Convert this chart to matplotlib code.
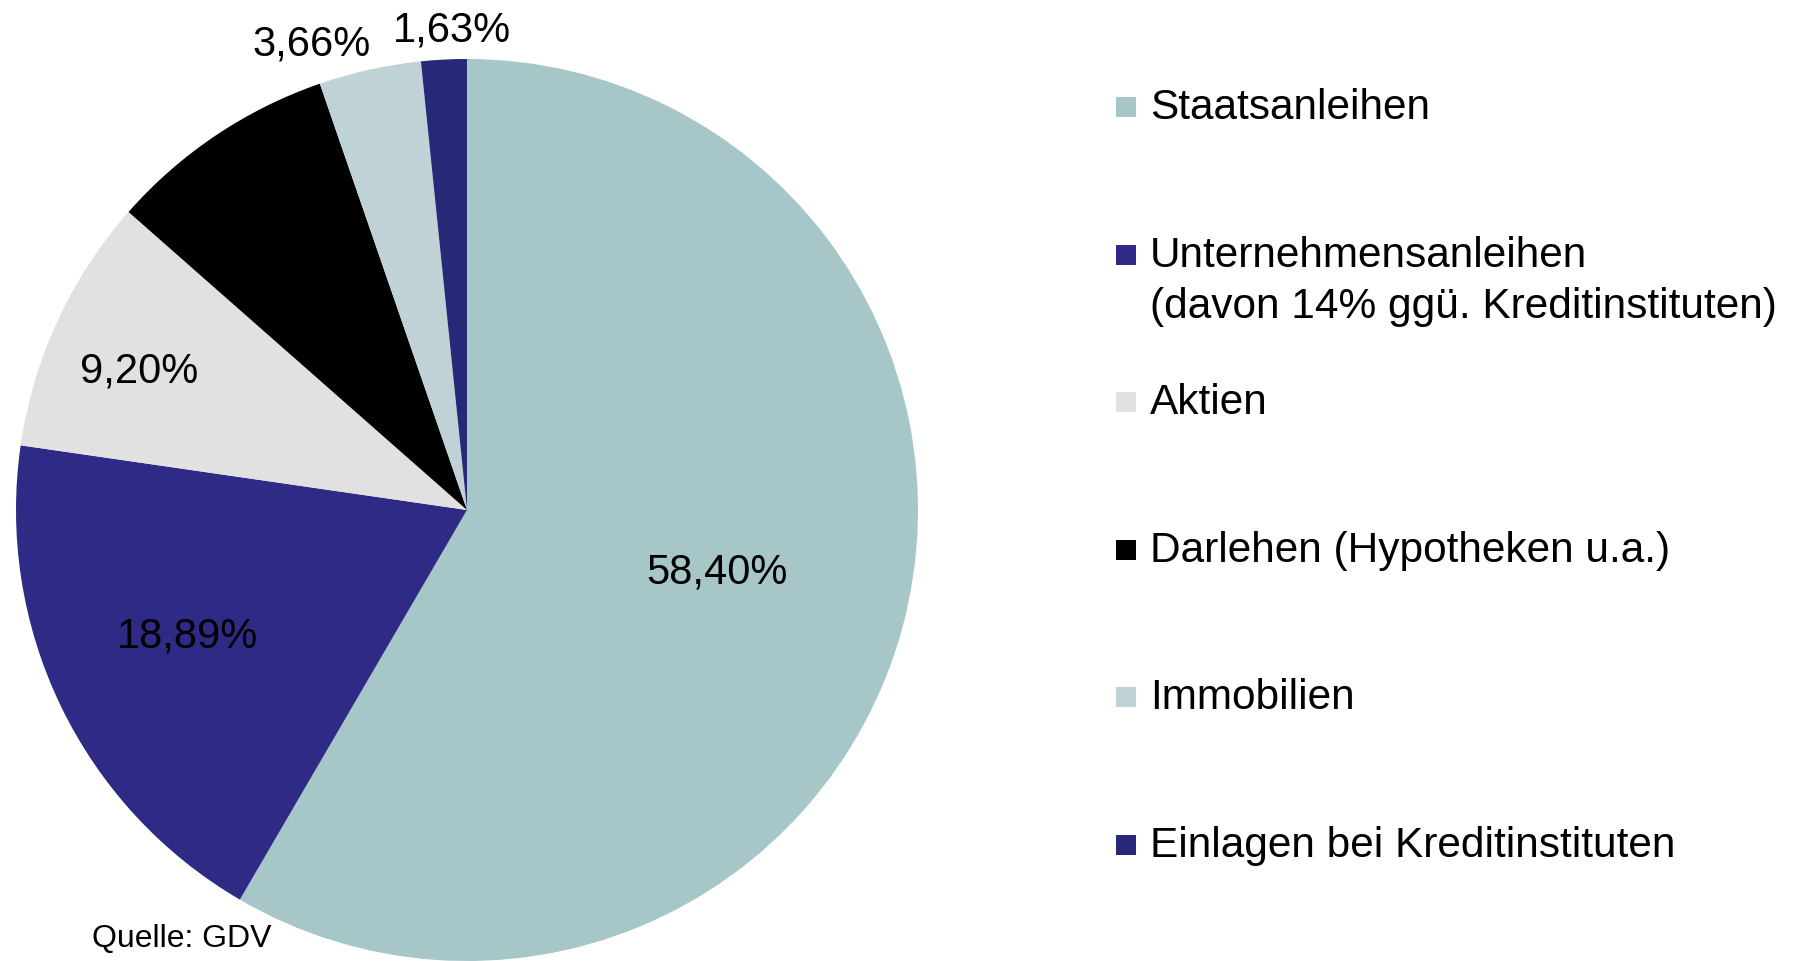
import numpy as np
import matplotlib.pyplot as plt
from matplotlib.patches import Rectangle

plt.rcParams['font.family'] = ['Liberation Sans', 'DejaVu Sans']

categories = ['Staatsanleihen',
              'Unternehmensanleihen\n(davon 14% ggü. Kreditinstituten)',
              'Aktien',
              'Darlehen (Hypotheken u.a.)',
              'Immobilien',
              'Einlagen bei Kreditinstituten']
shares = [58.40, 18.89, 9.20, 8.22, 3.66, 1.63]
colors = ['#A6C6C8', '#2E2A85', '#E1E1E1', '#000000', '#BFD3D6', '#282878']

# label placement: radius fraction and angle offset (deg) per slice
label_r = [0.57, 0.68, 0.79, 0.6, 1.09, 1.065]
label_dang = [1.2, -1.6, 1.7, 0.0, 6.0, -1.1]

W, H = 1800, 962
fig = plt.figure(figsize=(W / 100, H / 100), dpi=100)

cx, cy, R = 467, 511, 451
ax = fig.add_axes([(cx - R) / W, (H - cy - R) / H, 2 * R / W, 2 * R / H])
wedges, _ = ax.pie(shares, colors=colors, startangle=90, counterclock=False,
                   radius=1, wedgeprops=dict(linewidth=0))
ax.set_xlim(-1, 1)
ax.set_ylim(-1, 1)
ax.axis('off')

for w, v, r, da in zip(wedges, shares, label_r, label_dang):
    mid = np.deg2rad((w.theta1 + w.theta2) / 2 + da)
    txt = f'{v:.2f}%'.replace('.', ',')
    ax.text(r * np.cos(mid), r * np.sin(mid), txt, ha='center', va='center',
            fontsize=30, color='black', clip_on=False)

# legend
row_y = 108
step = 147.6
for i, (lab, col) in enumerate(zip(categories, colors)):
    y = row_y + i * step
    fig.add_artist(Rectangle((1116 / W, 1 - (y + 10) / H), 20 / W, 20 / H,
                             facecolor=col, edgecolor='none',
                             transform=fig.transFigure))
    for j, line in enumerate(lab.split('\n')):
        fig.text(1150 / W, 1 - (y + j * 51) / H, line, ha='left', va='center',
                 fontsize=30.5)

fig.text(92 / W, 1 - 939 / H, 'Quelle: GDV', ha='left', va='center', fontsize=23)

fig.savefig('out.png', dpi=100, facecolor='white')
